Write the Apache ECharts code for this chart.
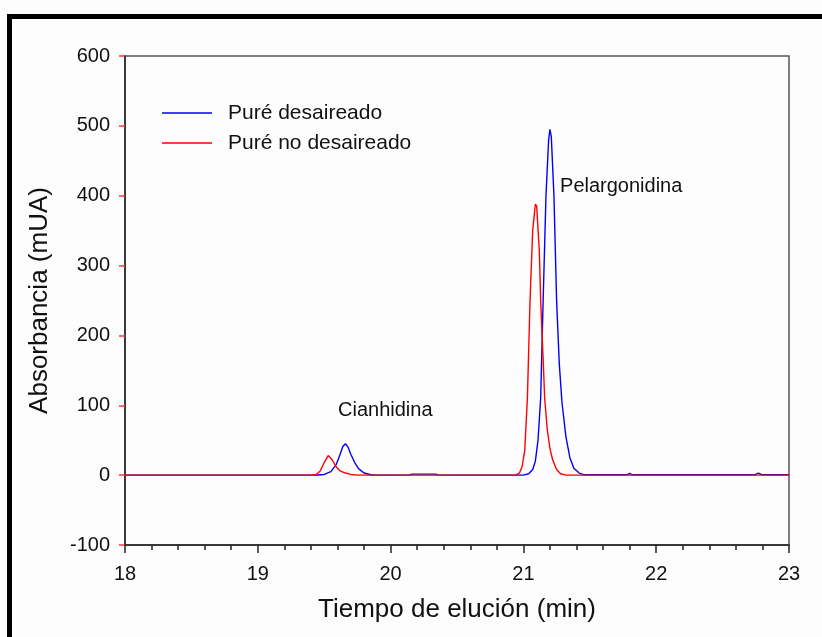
<!DOCTYPE html>
<html><head><meta charset="utf-8">
<script src="https://cdn.jsdelivr.net/npm/echarts@6/dist/echarts.min.js"></script>
<style>html,body{margin:0;padding:0;background:#fff}#c{width:822px;height:637px}</style>
</head><body><div id="c"></div>
<script>
const xTicks = [18, 19, 20, 21, 22, 23];
const yTicks = [-100, 0, 100, 200, 300, 400, 500, 600];
const seriesNames = ['Puré desaireado', 'Puré no desaireado'];

const timesBlue = [18.00, 19.40, 19.45, 19.50, 19.55, 19.59, 19.62, 19.64, 19.66, 19.68, 19.70, 19.73, 19.76, 19.80, 19.85, 19.90,
  20.14, 20.16, 20.34, 20.36, 21.00, 21.04, 21.07, 21.09, 21.11, 21.13, 21.15, 21.17, 21.19, 21.20, 21.21, 21.23,
  21.25, 21.27, 21.29, 21.32, 21.35, 21.38, 21.42, 21.46, 21.78, 21.80, 21.82, 22.74, 22.77, 22.80, 23.00];
const valuesBlue = [0, 0, 0.3, 1, 5, 15, 30, 41, 45, 40, 30, 18, 9, 3, 0.5, 0,
  0, 1.5, 1.5, 0, 0, 2, 8, 20, 50, 110, 260, 400, 480, 495, 485, 400,
  250, 160, 105, 55, 25, 10, 3, 0.5, 0.5, 2.5, 0.5, 0.5, 3, 0.5, 0.5];

const timesRed = [18.00, 19.40, 19.44, 19.47, 19.50, 19.53, 19.56, 19.59, 19.62, 19.66, 19.70, 19.75,
  20.94, 20.97, 20.99, 21.01, 21.03, 21.05, 21.07, 21.09, 21.095, 21.10, 21.12, 21.13, 21.15, 21.16,
  21.18, 21.20, 21.22, 21.25, 21.28, 21.32, 23.00];
const valuesRed = [0, 0, 1, 6, 18, 28, 22, 12, 6, 3, 1, 0,
  0, 3, 12, 35, 110, 250, 350, 388, 390, 385, 320, 250, 160, 110,
  65, 38, 22, 8, 2, 0, 0];

const annotations = [
  {text: 'Cianhidina', t: 19.96, v: 92, align: 'center'},
  {text: 'Pelargonidina', t: 21.276, v: 413, align: 'left'}
];

const pair = (ts, vs) => ts.map((t, i) => [t, vs[i]]);
const font = 'Liberation Sans, Arial, sans-serif';

const chart = echarts.init(document.getElementById('c'), null, {renderer: 'canvas'});
chart.setOption({
  backgroundColor: '#fdfdfd',
  animation: false,
  graphic: [
    {type: 'rect', z: 100, silent: true, shape: {x: 9.5, y: 16.5, width: 900, height: 700},
     style: {fill: null, stroke: '#000', lineWidth: 5}}
  ],
  legend: {
    orient: 'vertical', left: 162, top: 102, padding: 0, itemWidth: 50, itemHeight: 1.5, itemGap: 8,
    icon: 'rect',
    data: seriesNames,
    textStyle: {fontFamily: font, fontSize: 21, color: '#111', lineHeight: 22, padding: [0, 0, 0, 11]}
  },
  grid: {left: 125, right: 33, top: 56, bottom: 92, containLabel: false, outerBoundsMode: 'none',
         show: true, borderColor: '#555', borderWidth: 1.5, backgroundColor: '#fdfdfd'},
  xAxis: {
    type: 'value', min: xTicks[0], max: xTicks[xTicks.length - 1], interval: 1,
    name: 'Tiempo de elución (min)', nameLocation: 'middle', nameGap: 52,
    nameTextStyle: {fontFamily: font, fontSize: 26, color: '#111'},
    axisLine: {show: true, onZero: false, lineStyle: {color: '#222', width: 1.5}},
    axisTick: {show: true, inside: false, length: 8, lineStyle: {color: '#222', width: 1.5}},
    minorTick: {show: true, splitNumber: 5, length: 5, lineStyle: {color: '#222', width: 1.5}},
    axisLabel: {fontFamily: font, fontSize: 20, color: '#111', margin: 19},
    splitLine: {show: false}
  },
  yAxis: {
    type: 'value', min: yTicks[0], max: yTicks[yTicks.length - 1], interval: 100,
    name: 'Absorbancia (mUA)', nameLocation: 'middle', nameGap: 72, nameRotate: 90,
    nameTextStyle: {fontFamily: font, fontSize: 26, color: '#111'},
    axisLine: {show: true, onZero: false, lineStyle: {color: '#222', width: 1.5}},
    axisTick: {show: true, inside: false, length: 6, lineStyle: {color: '#ff3333', width: 1.5}},
    axisLabel: {fontFamily: font, fontSize: 20, color: '#111', margin: 15},
    splitLine: {show: false}
  },
  series: [
    {name: seriesNames[0], type: 'line', data: pair(timesBlue, valuesBlue), showSymbol: false, symbol: 'none',
     lineStyle: {color: '#0000ff', width: 1.4}, itemStyle: {color: '#0000ff'}, z: 2,
     markPoint: {symbol: 'circle', symbolSize: 0, silent: true,
       data: annotations.map(a => ({coord: [a.t, a.v], value: a.text,
         label: {show: true, position: 'inside', formatter: a.text, align: a.align, verticalAlign: 'middle',
                 fontFamily: font, fontSize: 20, color: '#111'}}))}},
    {name: seriesNames[1], type: 'line', data: pair(timesRed, valuesRed), showSymbol: false, symbol: 'none',
     lineStyle: {color: '#ff0000', width: 1.4}, itemStyle: {color: '#ff0000'}, z: 3}
  ]
});
</script></body></html>
